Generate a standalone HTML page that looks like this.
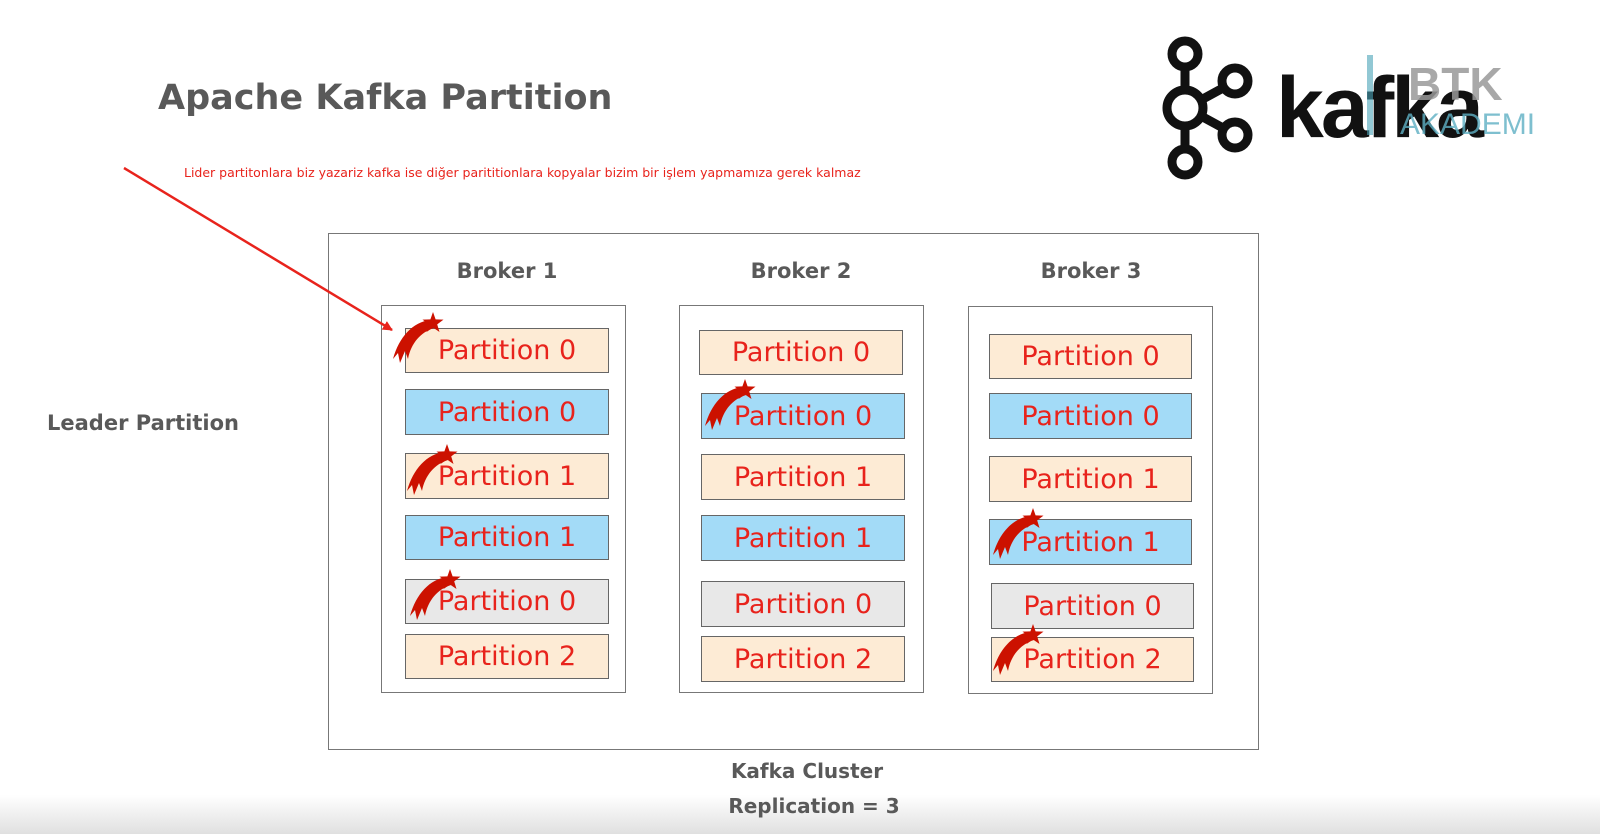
<!DOCTYPE html>
<html><head><meta charset="utf-8"><style>
*{margin:0;padding:0;box-sizing:border-box}
body{width:1600px;height:834px;position:relative;background:#fff;overflow:hidden;font-family:"DejaVu Sans",sans-serif}
.a{position:absolute}
.t{color:#595959;font-weight:bold}
.box{position:absolute;border:1.5px solid #777;background:#fff}
.p{position:absolute;border:1.5px solid #666;color:#e8231c;font-size:27px;text-align:center;display:flex;align-items:center;justify-content:center}
.pe{background:#fdebd5}.bl{background:#a3dbf7}.gr{background:#e8e8e8}
</style></head><body>
<div class="a" style="left:0;top:795px;width:1600px;height:39px;background:linear-gradient(#fff,#e0e0e0)"></div>
<div class="a t" style="left:158px;top:78px;font-size:35px">Apache Kafka Partition</div>
<div class="a" style="left:184px;top:165px;font-size:12.5px;color:#e8231c">Lider partitonlara biz yazariz kafka ise diğer parititionlara kopyalar bizim bir işlem yapmamıza gerek kalmaz</div>
<div class="a t" style="left:47px;top:411px;font-size:21px">Leader Partition</div>
<div class="box" style="left:328px;top:233px;width:931px;height:517px"></div>
<div class="a t" style="left:407px;top:259px;width:200px;text-align:center;font-size:21px">Broker 1</div>
<div class="a t" style="left:701px;top:259px;width:200px;text-align:center;font-size:21px">Broker 2</div>
<div class="a t" style="left:991px;top:259px;width:200px;text-align:center;font-size:21px">Broker 3</div>
<div class="box" style="left:381px;top:305px;width:245px;height:388px"></div>
<div class="box" style="left:679px;top:305px;width:245px;height:388px"></div>
<div class="box" style="left:968px;top:306px;width:245px;height:388px"></div>

<div class="p pe" style="left:405px;top:328px;width:204px;height:45px">Partition 0</div>
<div class="p bl" style="left:405px;top:389px;width:204px;height:46px">Partition 0</div>
<div class="p pe" style="left:405px;top:453px;width:204px;height:46px">Partition 1</div>
<div class="p bl" style="left:405px;top:515px;width:204px;height:45px">Partition 1</div>
<div class="p gr" style="left:405px;top:579px;width:204px;height:45px">Partition 0</div>
<div class="p pe" style="left:405px;top:634px;width:204px;height:45px">Partition 2</div>

<div class="p pe" style="left:699px;top:330px;width:204px;height:45px">Partition 0</div>
<div class="p bl" style="left:701px;top:393px;width:204px;height:46px">Partition 0</div>
<div class="p pe" style="left:701px;top:454px;width:204px;height:46px">Partition 1</div>
<div class="p bl" style="left:701px;top:515px;width:204px;height:46px">Partition 1</div>
<div class="p gr" style="left:701px;top:581px;width:204px;height:46px">Partition 0</div>
<div class="p pe" style="left:701px;top:636px;width:204px;height:46px">Partition 2</div>

<div class="p pe" style="left:989px;top:334px;width:203px;height:45px">Partition 0</div>
<div class="p bl" style="left:989px;top:393px;width:203px;height:46px">Partition 0</div>
<div class="p pe" style="left:989px;top:456px;width:203px;height:46px">Partition 1</div>
<div class="p bl" style="left:989px;top:519px;width:203px;height:46px">Partition 1</div>
<div class="p gr" style="left:991px;top:583px;width:203px;height:46px">Partition 0</div>
<div class="p pe" style="left:991px;top:637px;width:203px;height:45px">Partition 2</div>

<div class="a t" style="left:707px;top:759px;width:200px;text-align:center;font-size:20px">Kafka Cluster</div>
<div class="a t" style="left:714px;top:794px;width:200px;text-align:center;font-size:20px">Replication = 3</div>

<svg class="a" style="left:0;top:0" width="1600" height="834">
<defs>
<marker id="ah" markerWidth="10" markerHeight="10" refX="9" refY="5" orient="auto" markerUnits="userSpaceOnUse"><path d="M0,0 L10,5 L0,10 Z" fill="#e8231c"/></marker>
<g id="ss" fill="#cc1100">
<path d="M-3,-3 C-20,-1 -34,14 -40,36 L-35,30 L-33,40 L-28,28 L-25,36 C-22,20 -12,9 1,5 Z"/>
<polygon points="0,-11 2.6,-3.6 10.5,-3.4 4.2,1.4 6.5,9 0,4.5 -6.5,9 -4.2,1.4 -10.5,-3.4 -2.6,-3.6"/>
</g>
</defs>
<line x1="124" y1="168" x2="392" y2="330" stroke="#e8231c" stroke-width="2.5" marker-end="url(#ah)"/>
<use href="#ss" x="433" y="323"/>
<use href="#ss" x="447" y="455"/>
<use href="#ss" x="450" y="580"/>
<use href="#ss" x="745" y="390"/>
<use href="#ss" x="1033" y="519"/>
<use href="#ss" x="1033" y="635"/>
<g fill="none" stroke="#111" stroke-width="9">
<circle cx="1185" cy="54" r="13"/>
<circle cx="1185" cy="108" r="18"/>
<circle cx="1185" cy="162" r="13"/>
<circle cx="1235" cy="81" r="13"/>
<circle cx="1235" cy="135" r="13"/>
<line x1="1185" y1="67" x2="1185" y2="90"/>
<line x1="1185" y1="126" x2="1185" y2="149"/>
<line x1="1201" y1="100" x2="1223" y2="88"/>
<line x1="1201" y1="116" x2="1223" y2="128"/>
</g>
<text x="1276" y="137" font-family="Liberation Sans,sans-serif" font-size="86" font-weight="bold" fill="#111" letter-spacing="-3">kafka</text>
<rect x="1367" y="55" width="6" height="80" fill="#4aa3b8" opacity="0.6"/>
<text x="1408" y="100" font-family="Liberation Sans,sans-serif" font-size="46" font-weight="bold" fill="#999" opacity="0.85">BTK</text>
<text x="1400" y="134" font-family="Liberation Sans,sans-serif" font-size="30" fill="#5fb0c4" opacity="0.8">AKADEMI</text>
</svg>
</body></html>
